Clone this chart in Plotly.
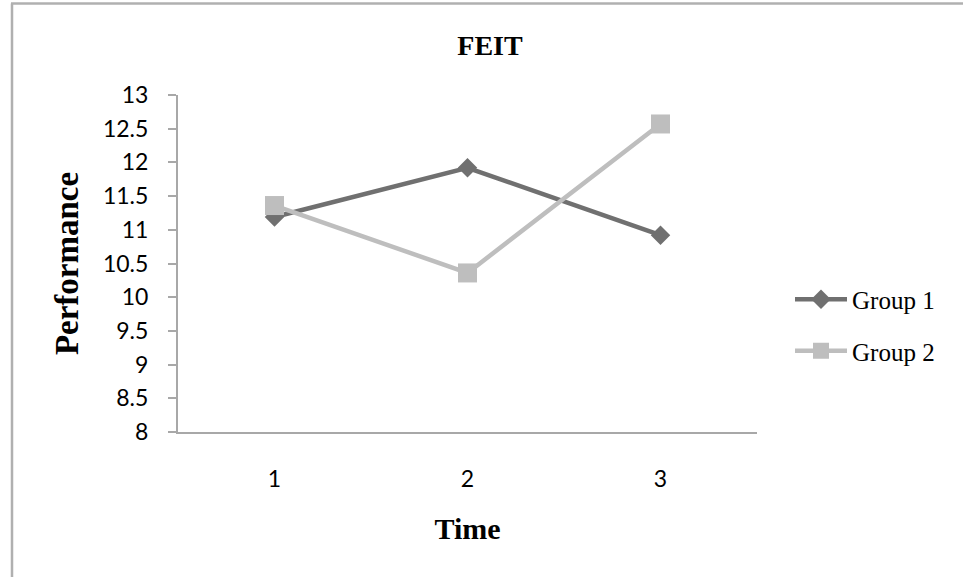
import plotly.graph_objects as go

# FEIT performance by measurement time, two groups
time_points = [1, 2, 3]
time_labels = ["1", "2", "3"]
group1 = [11.19, 11.92, 10.92]
group2 = [11.36, 10.36, 12.57]
y_ticks = [8, 8.5, 9, 9.5, 10, 10.5, 11, 11.5, 12, 12.5, 13]
y_tick_labels = ["8", "8.5", "9", "9.5", "10", "10.5", "11", "11.5", "12", "12.5", "13"]

W, H = 963, 577
M_L, M_R, M_T, M_B = 178, 206, 95, 145
plot_w = W - M_L - M_R
plot_h = H - M_T - M_B

SERIF = "Liberation Serif"
SANS = "Lato"


def px_x(px):
    return (px - M_L) / plot_w


def px_y(py):
    return (H - M_B - py) / plot_h


fig = go.Figure()
fig.add_trace(go.Scatter(
    x=time_points, y=group1, name="Group 1", mode="lines+markers",
    line=dict(color="#707070", width=4.5),
    marker=dict(symbol="diamond", size=15, color="#707070"),
    legendgroup="g1",
))
fig.add_trace(go.Scatter(
    x=time_points, y=group2, name="Group 2", mode="lines+markers",
    line=dict(color="#bebebe", width=4.5),
    marker=dict(symbol="square", size=19, color="#bebebe"),
    legendgroup="g2",
))

# outer chart frame (top and left edges)
frame = dict(color="#b0b0b0", width=2.5)
fig.add_shape(type="line", xref="paper", yref="paper",
              x0=px_x(11), x1=px_x(W + 5), y0=px_y(3.5), y1=px_y(3.5), line=frame)
fig.add_shape(type="line", xref="paper", yref="paper",
              x0=px_x(12), x1=px_x(12), y0=px_y(3.5), y1=px_y(H + 5), line=frame)

fig.update_layout(
    width=W, height=H,
    margin=dict(l=M_L, r=M_R, t=M_T, b=M_B, autoexpand=False),
    paper_bgcolor="white", plot_bgcolor="white",
    title=dict(text="<b>FEIT</b>", font=dict(family=SERIF, size=28, color="black"),
               xref="container", yref="container", x=490 / W, y=1 - 45 / H,
               xanchor="center", yanchor="middle"),
    showlegend=True,
    legend=dict(x=px_x(790), y=px_y(325), xanchor="left", yanchor="middle",
                font=dict(family=SERIF, size=25, color="black"),
                itemwidth=52, tracegroupgap=16, bgcolor="rgba(0,0,0,0)"),
    xaxis=dict(
        range=[0.5, 3.5], tickmode="array", tickvals=time_points, ticktext=time_labels,
        showgrid=False, zeroline=False, showline=True, linecolor="#a8a8a8", linewidth=2,
        ticks="", tickfont=dict(family=SANS, size=23, color="black"),
        ticklabelstandoff=25,
        title=dict(text="<b>Time</b>", font=dict(family=SERIF, size=30, color="black"), standoff=27),
    ),
    yaxis=dict(
        range=[8, 13], tickmode="array", tickvals=y_ticks, ticktext=y_tick_labels,
        showgrid=False, zeroline=False, showline=True, linecolor="#a8a8a8", linewidth=2,
        ticks="outside", ticklen=8, tickcolor="#a8a8a8", tickwidth=2,
        tickfont=dict(family=SANS, size=23, color="black"),
        ticklabelstandoff=15,
        title=dict(text="<b>Performance</b>", font=dict(family=SERIF, size=33, color="black"), standoff=14),
    ),
)

fig.write_html("out.html")
